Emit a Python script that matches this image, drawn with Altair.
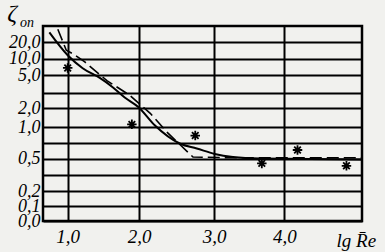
import altair as alt
import pandas as pd

# y-axis tick values of the (non-uniform) reference axis, bottom to top
y_ticks = [0, 0.1, 0.2, 0.3, 0.5, 0.7, 1, 2, 3, 5, 10, 20, 40]
x_ticks = [1, 2, 3, 4]

# solid curve
solid_x = [0.74, 1.0, 1.21, 1.45, 1.64, 1.80, 1.99, 2.21, 2.55, 2.77, 3.01, 3.27, 3.65, 5.0]
solid_y = [32, 12, 7.1, 4.7, 3.6, 2.7, 2.07, 1.09, 0.69, 0.63, 0.56, 0.52, 0.50, 0.49]

# dashed curve
dashed_x = [0.86, 0.98, 1.07, 1.24, 1.55, 1.87, 2.15, 2.39, 2.72, 3.35, 5.0]
dashed_y = [36, 15, 13, 9, 4.4, 2.85, 1.72, 0.88, 0.52, 0.51, 0.51]

# experimental points (asterisks)
pt_x = [1.0, 1.90, 2.75, 3.68, 4.17, 4.80]
pt_y = [7.2, 1.14, 0.84, 0.44, 0.61, 0.41]

W, H = 319, 195
x_scale = alt.Scale(domain=[0.65, 1, 2, 3, 4, 5], range=[0, 24.7, 96, 171, 241.3, W])
y_scale = alt.Scale(
    domain=y_ticks,
    range=[195.0, 180.3, 165.0, 148.6, 132.6, 117.0, 101.0, 82.0, 67.0, 49.3, 32.6, 16.0, 0],
)

FONT = "Liberation Serif"

x_axis = alt.Axis(
    values=x_ticks, tickCount=30,
    labelExpr="replace(format(datum.value, '.1f'), '.', ',')",
    grid=True, gridColor="black", gridWidth=2, gridOpacity=1,
    ticks=False, domain=False, labelOverlap=False,
    labelFont=FONT, labelFontStyle="italic", labelFontSize=19, labelColor="black",
    labelPadding=6,
    title="lg R\u0304e", titleFont=FONT, titleFontStyle="italic", titleFontWeight="normal",
    titleFontSize=19, titleColor="black", titleAlign="left", titleAnchor="start",
    titleX=293, titleY=25, titleBaseline="alphabetic",
)
y_axis = alt.Axis(
    values=y_ticks[:-1], tickCount=30,
    labelExpr="indexof([0.3, 0.7, 3], datum.value) >= 0 ? '' : replace(format(datum.value, '.1f'), '.', ',')",
    grid=True, gridColor="black", gridWidth=2, gridOpacity=1,
    ticks=False, domain=False, labelOverlap=False,
    labelFont=FONT, labelFontStyle="italic", labelFontSize=18, labelColor="black",
    labelPadding=3, labelBaseline="middle",
    title=None,
)

solid_df = pd.DataFrame({"x": solid_x, "y": solid_y})
dashed_df = pd.DataFrame({"x": dashed_x, "y": dashed_y})
pt_df = pd.DataFrame({"x": pt_x, "y": pt_y})

base_x = alt.X("x:Q", scale=x_scale, axis=x_axis)
base_y = alt.Y("y:Q", scale=y_scale, axis=y_axis)

solid = alt.Chart(solid_df).mark_line(color="black", strokeWidth=2, interpolate="monotone").encode(
    x=base_x, y=base_y
)
dashed = alt.Chart(dashed_df).mark_line(color="black", strokeWidth=1.6, strokeDash=[12, 5]).encode(
    x=alt.X("x:Q", scale=x_scale), y=alt.Y("y:Q", scale=y_scale)
)
star_path = "M-1,0L1,0M0,-1L0,1M-0.7,-0.7L0.7,0.7M-0.7,0.7L0.7,-0.7"
points = alt.Chart(pt_df).mark_point(
    shape=star_path, filled=False, color="black", strokeWidth=1.8, size=90, opacity=1
).encode(x=alt.X("x:Q", scale=x_scale), y=alt.Y("y:Q", scale=y_scale))

zeta = alt.Chart(alt.Data(values=[{"t": "\u03b6"}])).mark_text(
    font=FONT, fontStyle="italic", fontSize=24, color="black", align="center", baseline="middle"
).encode(text="t:N", x=alt.value(-31), y=alt.value(-12))
sub = alt.Chart(alt.Data(values=[{"t": "on"}])).mark_text(
    font=FONT, fontStyle="italic", fontSize=14, color="black", align="left", baseline="middle"
).encode(text="t:N", x=alt.value(-23), y=alt.value(-3))

chart = alt.layer(solid, dashed, points, zeta, sub).properties(
    width=W, height=H,
    background="#f1f1ee",
    padding={"left": 43, "top": 26, "right": 23, "bottom": 31},
    autosize=alt.AutoSizeParams(type="none"),
).configure_view(stroke="black", strokeWidth=2.5)

chart.save("out.html", embed_options={"renderer": "svg", "actions": False})
